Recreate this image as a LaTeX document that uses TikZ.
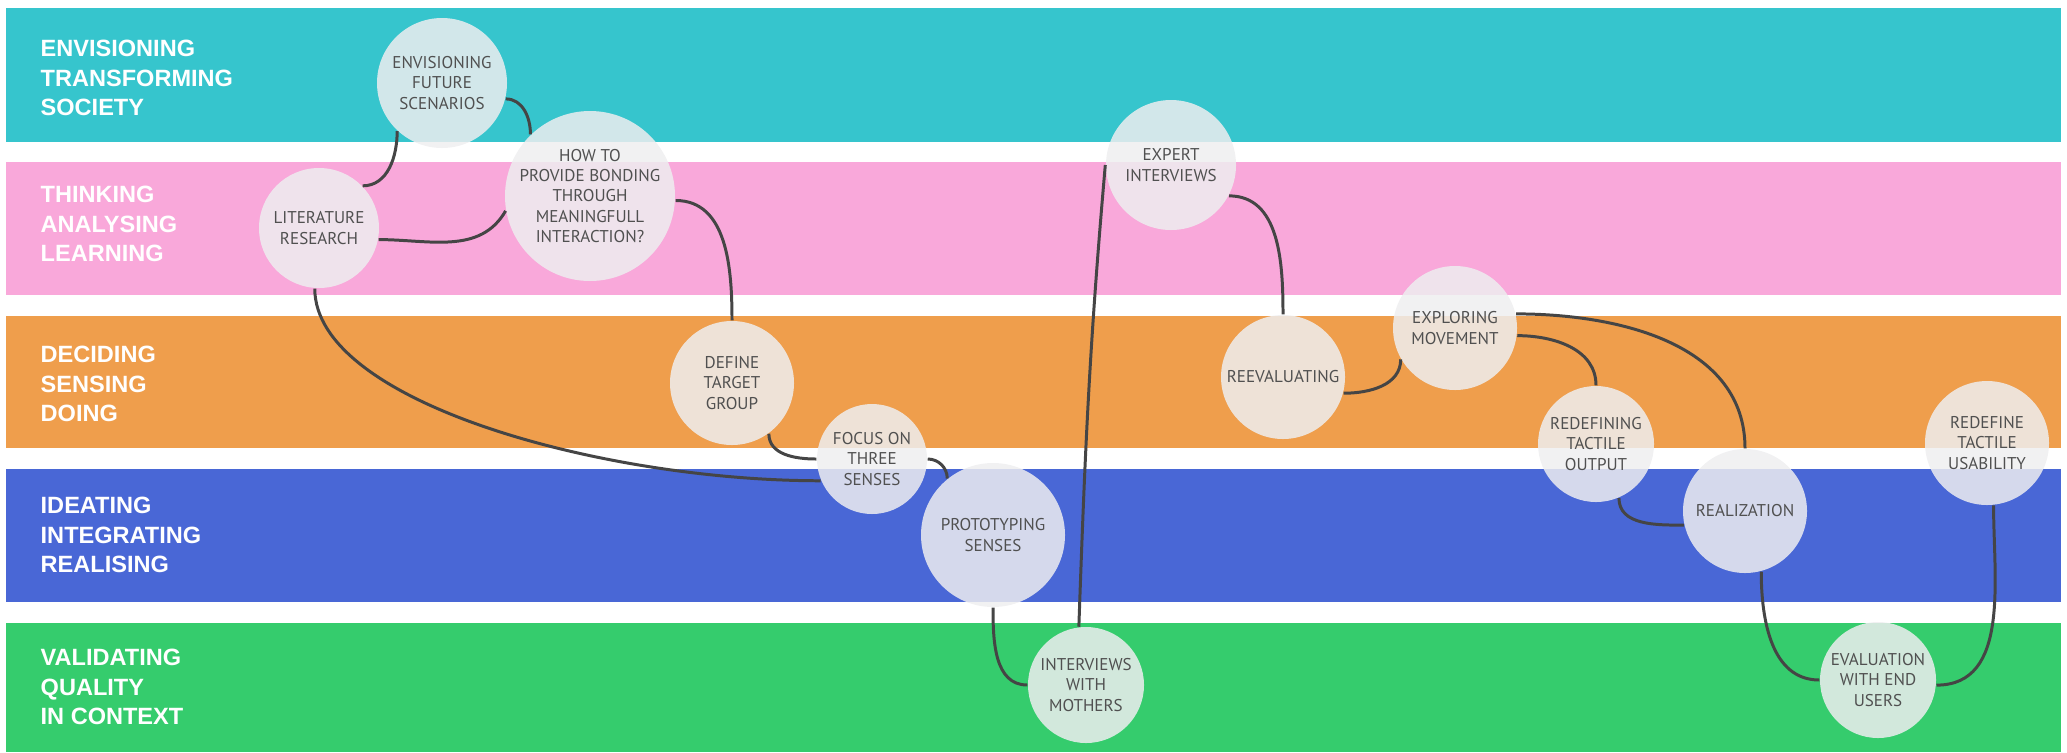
\documentclass[tikz,border=0pt]{standalone}
\usepackage{fontspec}
\setmainfont{Liberation Sans}
\newfontfamily\stagefont{PT Sans}
\definecolor{laneteal}{HTML}{36C5CD}
\definecolor{lanepink}{HTML}{F9A8DA}
\definecolor{laneorange}{HTML}{EF9E4C}
\definecolor{laneblue}{HTML}{4967D6}
\definecolor{lanegreen}{HTML}{35CC6D}
\definecolor{stagefill}{HTML}{EEEEF0}
\definecolor{stageink}{HTML}{505050}
\definecolor{linkgray}{HTML}{454545}
\begin{document}
\begin{tikzpicture}[
lane/.style={anchor=west, align=left, text=white, inner sep=0pt, font=\bfseries\fontsize{6.7}{8.5}\selectfont},
stage/.style={circle, fill=stagefill, fill opacity=0.85, inner sep=0pt},
stagetext/.style={align=center, text=stageink, fill opacity=1, text opacity=1, inner sep=0pt, font=\stagefont\fontsize{4.85}{5.8}\selectfont},
link/.style={draw=linkgray, line width=0.85pt}]
\useasboundingbox (0,0) rectangle (20.67,7.52);
\fill[laneteal] (0.06,6.10) rectangle (20.61,7.44);
\fill[lanepink] (0.06,4.57) rectangle (20.61,5.90);
\fill[laneorange] (0.06,3.04) rectangle (20.61,4.36);
\fill[laneblue] (0.06,1.50) rectangle (20.61,2.83);
\fill[lanegreen] (0.06,0) rectangle (20.61,1.29);
\node[lane] (envis) at (0.40,6.74){ENVISIONING\\TRANSFORMING\\SOCIETY};
\node[lane] (think) at (0.40,5.28){THINKING\\ANALYSING\\LEARNING};
\node[lane] (decid) at (0.40,3.68){DECIDING\\SENSING\\DOING};
\node[lane] (ideat) at (0.40,2.17){IDEATING\\INTEGRATING\\REALISING};
\node[lane] (valid) at (0.40,0.65){VALIDATING\\QUALITY\\IN CONTEXT};
\node[stage, minimum size=1.30cm, label={[stagetext]center:ENVISIONING\\FUTURE\\SCENARIOS}] (fut) at (4.42,6.69){};
\node[stage, minimum size=1.20cm, label={[stagetext]center:LITERATURE\\RESEARCH}] (lit) at (3.19,5.24){};
\node[stage, minimum size=1.70cm, label={[stagetext]center:HOW TO\\PROVIDE BONDING\\THROUGH\\MEANINGFULL\\INTERACTION?}] (how) at (5.90,5.56){};
\node[stage, minimum size=1.30cm, label={[stagetext]center:EXPERT\\INTERVIEWS}] (exp) at (11.71,5.87){};
\node[stage, minimum size=1.24cm, label={[stagetext]center:DEFINE\\TARGET\\GROUP}] (def) at (7.32,3.69){};
\node[stage, minimum size=1.10cm, label={[stagetext]center:FOCUS ON\\THREE\\SENSES}] (foc) at (8.72,2.93){};
\node[stage, minimum size=1.44cm, label={[stagetext]center:PROTOTYPING\\SENSES}] (pro) at (9.93,2.17){};
\node[stage, minimum size=1.16cm, label={[stagetext]center:INTERVIEWS\\WITH\\MOTHERS}] (mot) at (10.86,0.67){};
\node[stage, minimum size=1.24cm, label={[stagetext]center:REEVALUATING}] (ree) at (12.83,3.75){};
\node[stage, minimum size=1.24cm, label={[stagetext]center:EXPLORING\\MOVEMENT}] (exm) at (14.55,4.24){};
\node[stage, minimum size=1.16cm, label={[stagetext]center:REDEFINING\\TACTILE\\OUTPUT}] (rto) at (15.96,3.08){};
\node[stage, minimum size=1.24cm, label={[stagetext]center:REALIZATION}] (rea) at (17.45,2.41){};
\node[stage, minimum size=1.24cm, label={[stagetext]center:REDEFINE\\TACTILE\\USABILITY}] (rtu) at (19.87,3.09){};
\node[stage, minimum size=1.16cm, label={[stagetext]center:EVALUATION\\WITH END\\USERS}] (eva) at (18.78,0.72){};
\draw[link] (fut.227) to[out=-90,in=0] (lit.44);
\draw[link] (fut.-14) to[out=0,in=90] (how.134);
\draw[link] (lit.-11) to[out=0,in=-120] (how.190);
\draw[link] (how.-3) to[out=0,in=90] (def.north);
\draw[link] (lit.-94) .. controls +(0,-1.13) and +(-2.2,0) .. (foc.203);
\draw[link] (def.-54) to[out=-90,in=180] (foc.180);
\draw[link] (foc.0) to[out=0,in=90] (pro.129);
\draw[link] (pro.-90) to[out=-90,in=180] (mot.180);
\draw[link] (mot.97) to[out=88,in=-95] (exp.180);
\draw[link] (exp.-28) to[out=0,in=90] (ree.north);
\draw[link] (ree.-15) to[out=0,in=-90] (exm.210);
\draw[link] (exm.-7) to[out=0,in=90] (rto.north);
\draw[link] (exm.13) to[out=0,in=90] (rea.north);
\draw[link] (rto.-67) to[out=-90,in=180] (rea.193);
\draw[link] (rea.-75) to[out=-90,in=180] (eva.180);
\draw[link] (eva.-5) to[out=0,in=-90] (rtu.-84);
\end{tikzpicture}
\end{document}
